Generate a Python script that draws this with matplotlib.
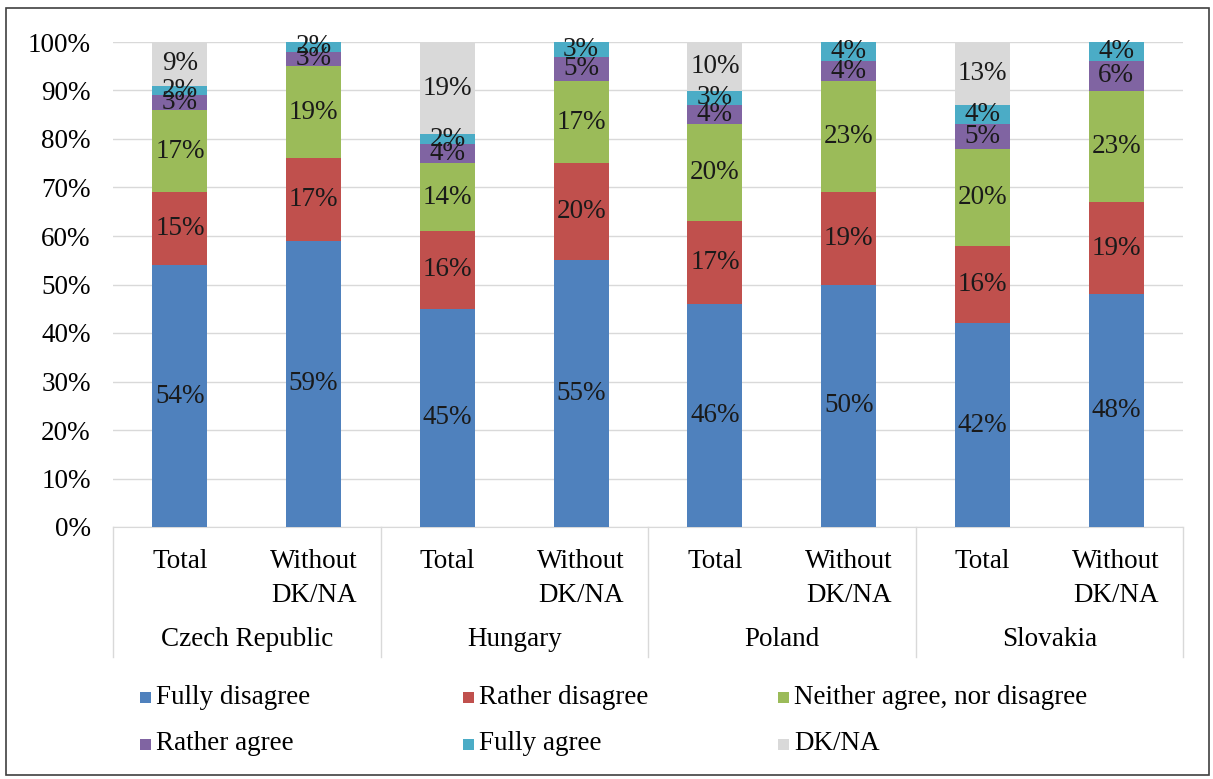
import matplotlib
matplotlib.use("Agg")
import matplotlib.pyplot as plt
from matplotlib.patches import Rectangle
from matplotlib.lines import Line2D
import numpy as np

plt.rcParams['font.family'] = ['Liberation Serif', 'DejaVu Serif']

countries = ["Czech Republic", "Hungary", "Poland", "Slovakia"]
subgroups = ["Total", "Without\nDK/NA"]
series_names = ["Fully disagree", "Rather disagree", "Neither agree, nor disagree",
                "Rather agree", "Fully agree", "DK/NA"]
colors = ["#4F81BD", "#C0504D", "#9BBB59", "#8064A2", "#4BACC6", "#D9D9D9"]

# Bars ordered: CZ Total, CZ w/o, HU Total, HU w/o, PL Total, PL w/o, SK Total, SK w/o
fully_disagree = [54, 59, 45, 55, 46, 50, 42, 48]
rather_disagree = [15, 17, 16, 20, 17, 19, 16, 19]
neither = [17, 19, 14, 17, 20, 23, 20, 23]
rather_agree = [3, 3, 4, 5, 4, 4, 5, 6]
fully_agree = [2, 2, 2, 3, 3, 4, 4, 4]
dk_na = [9, 0, 19, 0, 10, 0, 13, 0]

series = [fully_disagree, rather_disagree, neither, rather_agree, fully_agree, dk_na]

FS = 19.5
W, H = 1213, 779
fig = plt.figure(figsize=(W / 100, H / 100), dpi=100)

x0, x1 = 113, 1183
y0, y1 = 527, 42
ax = fig.add_axes([x0 / W, 1 - y0 / H, (x1 - x0) / W, (y0 - y1) / H])

n = len(fully_disagree)
x = np.arange(n)
bottom = np.zeros(n)
for vals, col in zip(series, colors):
    vals = np.array(vals, dtype=float)
    ax.bar(x, vals, width=0.41, bottom=bottom, color=col, zorder=3)
    for xi, b, v in zip(x, bottom, vals):
        if v > 0:
            ax.text(xi, b + v / 2, f"{int(v)}%", ha="center", va="center",
                    fontsize=FS, color="#1a1a1a", zorder=4)
    bottom += vals

ax.set_xlim(-0.5, n - 0.5)
ax.set_ylim(0, 100)
ax.set_yticks(np.arange(0, 101, 10))
ax.set_yticklabels([f"{v}%" for v in range(0, 101, 10)], fontsize=FS)
ax.tick_params(axis="y", length=0, pad=16)
ax.yaxis.grid(True, color="#D9D9D9", linewidth=1, zorder=0)
for s in ["top", "right", "left"]:
    ax.spines[s].set_visible(False)
ax.spines["bottom"].set_color("#D9D9D9")

ax.set_xticks(x)
ax.set_xticklabels([])
ax.tick_params(axis="x", length=0)

# Two-level category axis
to_ax_y = lambda py: -(py - y0) / (y0 - y1) * 100
for i in range(n):
    ax.text(x[i], to_ax_y(549), subgroups[i % 2], ha="center", va="top",
            fontsize=FS, linespacing=1.45, clip_on=False)
for g, name in enumerate(countries):
    ax.text(2 * g + 0.5, to_ax_y(639), name, ha="center", va="center",
            fontsize=FS, clip_on=False)
for b in np.arange(-0.5, n, 2):
    ax.add_line(Line2D([b, b], [0, to_ax_y(657)], color="#D9D9D9",
                       linewidth=1, clip_on=False))

# Legend
leg_cols_px = [140, 463, 778]
leg_rows_px = [697, 744]
sq = 11
for k, (name, col) in enumerate(zip(series_names, colors)):
    r, c = divmod(k, 3)
    px, py = leg_cols_px[c], leg_rows_px[r]
    fig.add_artist(Rectangle((px / W, 1 - (py + sq / 2) / H), sq / W, sq / H,
                             transform=fig.transFigure, facecolor=col,
                             edgecolor="none"))
    fig.text((px + sq + 5) / W, 1 - py / H, name, ha="left", va="center",
             fontsize=FS)

# Outer frame
fig.add_artist(Rectangle((6 / W, 1 - 775 / H), 1203 / W, 767 / H,
                         transform=fig.transFigure, facecolor="none",
                         edgecolor="#404040", linewidth=1.2))

fig.savefig("out.png", dpi=100)
